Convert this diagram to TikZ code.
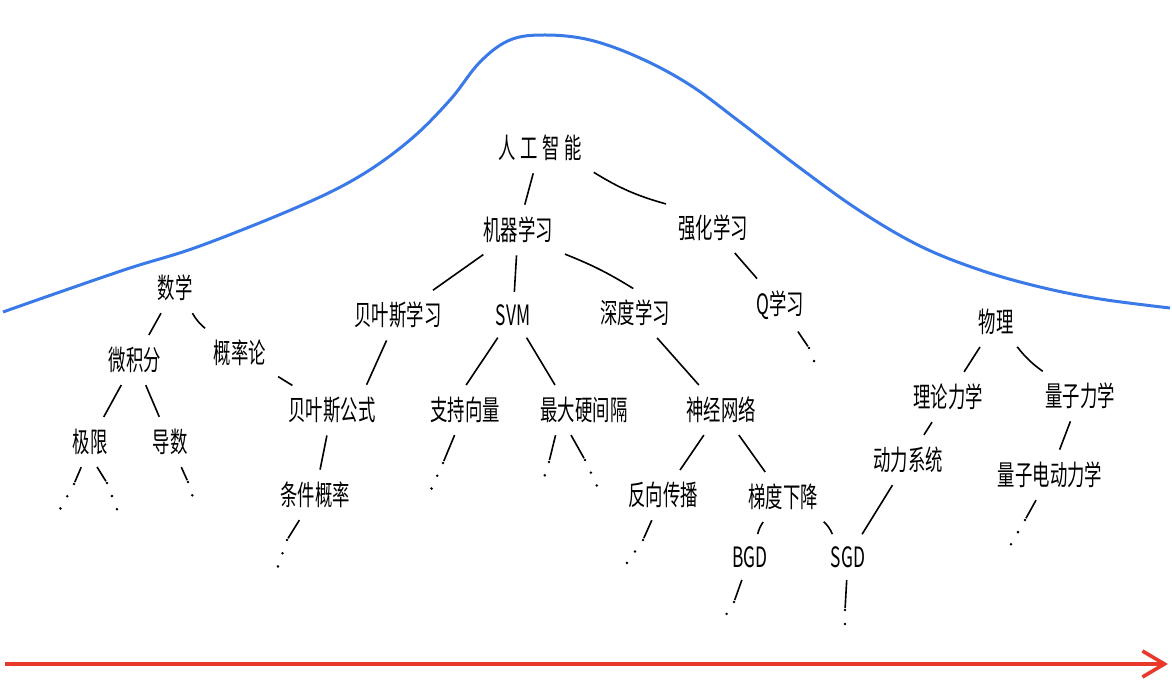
\documentclass[tikz,border=0pt]{standalone}
\usepackage{fontspec}
\newfontfamily\hand[FakeStretch=0.62]{Noto Sans CJK SC}
\usetikzlibrary{arrows.meta}
\definecolor{curveblue}{HTML}{3A7AE8}
\definecolor{axisred}{HTML}{E8392B}

\begin{document}
\begin{tikzpicture}[
  x=0.5pt,
  y=-0.5pt,
  topic/.style={
    font=\hand\fontsize{14}{16}\selectfont,
    inner sep=5pt
  },
  branch/.style={
    draw,
    line width=0.8pt,
    shorten <=1pt,
    shorten >=1pt
  },
  etc/.style={
    draw,
    line width=1.4pt,
    line cap=round,
    dash pattern=on 0pt off 7pt
  },
]
\useasboundingbox (0,0) rectangle (1172,683);

\draw[curveblue, line width=1.5pt] plot[smooth, tension=0.6] coordinates {
  (3,312) (60,292) (130,268) (200,246) (300,206) (360,176) (410,140)
  (450,100) (480,62) (510,40) (545,35) (590,40) (640,58) (690,85)
  (740,122) (800,168) (860,211) (920,246) (980,270) (1040,287)
  (1100,299) (1170,308)
};

\draw[axisred, line width=1.8pt, -{Straight Barb[length=11pt,width=13pt]}]
  (5,664) -- (1168,664);

\node[topic] (ai)     at (540,148) {人\,工\,智\,能};
\node[topic] (ml)     at (518,230) {机器学习};
\node[topic] (rl)     at (713,228) {强化学习};
\node[topic] (bayesl) at (398,315) {贝叶斯学习};
\node[topic] (svm)    at (513,315) {SVM};
\node[topic] (dl)     at (635,313) {深度学习};
\node[topic] (ql)     at (780,305) {Q学习};
\node[topic] (math)   at (175,288) {数学};
\node[topic] (calc)   at (135,360) {微积分};
\node[topic] (prob)   at (240,353) {概率论};
\node[topic] (limit)  at (90,442)  {极限};
\node[topic] (deriv)  at (170,442) {导数};
\node[topic] (bayesf) at (332,410) {贝叶斯公式};
\node[topic] (condp)  at (315,495) {条件概率};
\node[topic] (supv)   at (465,410) {支持向量};
\node[topic] (hardm)  at (584,410) {最大硬间隔};
\node[topic] (nn)     at (721,410) {神经网络};
\node[topic] (bp)     at (663,495) {反向传播};
\node[topic] (gd)     at (783,497) {梯度下降};
\node[topic] (bgd)    at (750,557) {BGD};
\node[topic] (sgd)    at (848,557) {SGD};
\node[topic] (phys)   at (996,322) {物理};
\node[topic] (mech)   at (948,397) {理论力学};
\node[topic] (quant)  at (1080,396) {量子力学};
\node[topic] (dyn)    at (908,460) {动力系统};
\node[topic] (qed)    at (1050,475) {量子电动力学};

\draw[branch] (ai) -- (ml);
\draw[branch] (ai.south east) to[bend right=8] (rl.north west);
\draw[branch] (ml) -- (bayesl);
\draw[branch] (ml) -- (svm);
\draw[branch] (ml.south east) to[bend left=5] (dl.north);
\draw[branch] (rl) -- (ql);
\draw[branch] (math) -- (calc);
\draw[branch] (math) to[bend right=10] (prob);
\draw[branch] (calc) -- (limit);
\draw[branch] (calc) -- (deriv);
\draw[branch] (prob) -- (bayesf);
\draw[branch] (bayesl) -- ([xshift=-10pt]bayesf.north east);
\draw[branch] (bayesf) -- (condp);
\draw[branch] (svm) -- (supv.north);
\draw[branch] (svm) -- ([xshift=-14pt]hardm.north);
\draw[branch] (dl) -- (nn);
\draw[branch] (nn) -- (bp);
\draw[branch] (nn) -- (gd);
\draw[branch] (gd) to[bend right=10] (bgd);
\draw[branch] (gd) to[bend left=12] (sgd);
\draw[branch] (dyn) -- (sgd);
\draw[branch] (mech) -- (dyn);
\draw[branch] (phys) -- (mech);
\draw[branch] (phys) to[bend right=8] (quant);
\draw[branch] (quant) -- (qed);

\coordinate (limitA) at (74,484);
\coordinate (limitB) at (54,520);
\coordinate (limitC) at (107,483);
\coordinate (limitD) at (118,512);
\coordinate (derivA) at (188,482);
\coordinate (derivB) at (196,507);
\coordinate (condpA) at (287,540);
\coordinate (condpB) at (276,572);
\coordinate (supvA)  at (443,463);
\coordinate (supvB)  at (430,492);
\coordinate (hardmA) at (549,462);
\coordinate (hardmB) at (542,484);
\coordinate (hardmC) at (585,460);
\coordinate (hardmD) at (597,486);
\coordinate (bpA)    at (643,540);
\coordinate (bpB)    at (622,570);
\coordinate (bgdA)   at (734,602);
\coordinate (bgdB)   at (721,623);
\coordinate (sgdA)   at (845,610);
\coordinate (sgdB)   at (845,634);
\coordinate (qlA)    at (809,348);
\coordinate (qlB)    at (819,374);
\coordinate (qedA)   at (1025,520);
\coordinate (qedB)   at (1010,546);

\draw[branch] ([xshift=-4pt]limit.south) -- (limitA);
\draw[etc] (limitA) -- (limitB);
\draw[branch] ([xshift=3pt]limit.south) -- (limitC);
\draw[etc] (limitC) -- (limitD);
\draw[branch] (deriv) -- (derivA);
\draw[etc] (derivA) -- (derivB);
\draw[branch] (condp) -- (condpA);
\draw[etc] (condpA) -- (condpB);
\draw[branch] (supv) -- (supvA);
\draw[etc] (supvA) -- (supvB);
\draw[branch] ([xshift=-14pt]hardm.south) -- (hardmA);
\draw[etc] (hardmA) -- (hardmB);
\draw[branch] ([xshift=-7pt]hardm.south) -- (hardmC);
\draw[etc] (hardmC) -- (hardmD);
\draw[branch] (bp) -- (bpA);
\draw[etc] (bpA) -- (bpB);
\draw[branch] (bgd) -- (bgdA);
\draw[etc] (bgdA) -- (bgdB);
\draw[branch] (sgd) -- (sgdA);
\draw[etc] (sgdA) -- (sgdB);
\draw[branch] (ql) -- (qlA);
\draw[etc] (qlA) -- (qlB);
\draw[branch] (qed) -- (qedA);
\draw[etc] (qedA) -- (qedB);
\end{tikzpicture}
\end{document}
